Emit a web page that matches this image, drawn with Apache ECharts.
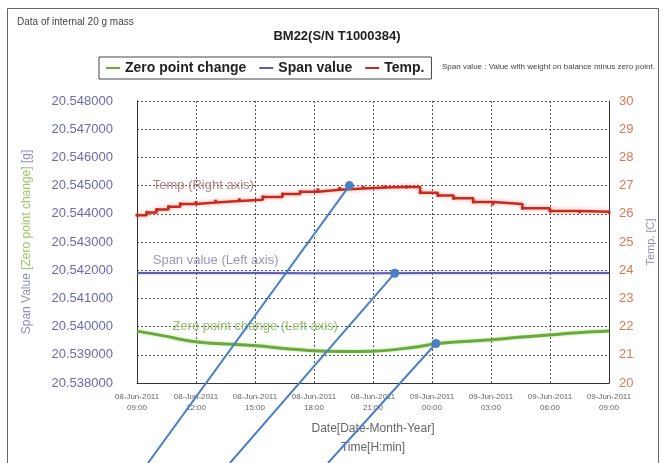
<!DOCTYPE html>
<html>
<head>
<meta charset="utf-8">
<script src="https://cdn.jsdelivr.net/npm/echarts@6/dist/echarts.min.js"></script>
<style>
  html, body { margin: 0; padding: 0; background: #fff; }
  #chart { width: 664px; height: 463px; }
</style>
</head>
<body>
<div id="chart"></div>
<script>
// hours after 08-Jun-2011 09:00
var tickLabels = [
  "08-Jun-2011\n09:00", "08-Jun-2011\n12:00", "08-Jun-2011\n15:00",
  "08-Jun-2011\n18:00", "08-Jun-2011\n21:00", "09-Jun-2011\n00:00",
  "09-Jun-2011\n03:00", "09-Jun-2011\n06:00", "09-Jun-2011\n09:00"
];

var tempHours = [0, 0.5, 1, 1.6, 2.2, 3, 4, 5.2, 6.4, 7.4, 8.3, 9.2, 10.3, 11.5, 12.6, 13.7, 14.4, 15.3, 16.1, 17.1, 18.1, 19.6, 21.0, 22.5, 24];
var tempValues = [25.95, 26.05, 26.15, 26.25, 26.35, 26.4, 26.45, 26.5, 26.6, 26.7, 26.78, 26.85, 26.9, 26.93, 26.95, 26.95, 26.75, 26.65, 26.55, 26.42, 26.35, 26.2, 26.1, 26.07, 26.05];

var spanHours = [0, 3, 6, 9, 12, 15, 18, 21, 24];
var spanValues = [20.54190, 20.54190, 20.54190, 20.54189, 20.54189, 20.54190, 20.54190, 20.54190, 20.54190];

var zeroHours = [0, 1.3, 3, 4.5, 6.1, 7.5, 9, 10.5, 12, 14, 15.3, 16.6, 18, 19.4, 20.9, 22.4, 24];
var zeroValues = [20.53984, 20.53968, 20.53946, 20.53938, 20.53932, 20.53922, 20.53914, 20.53912, 20.53913, 20.53926, 20.53940, 20.53947, 20.53953, 20.53962, 20.53970, 20.53978, 20.53984];

function pairs(xs, ys) {
  var out = [];
  for (var i = 0; i < xs.length; i++) out.push([xs[i], ys[i]]);
  return out;
}

var chart = echarts.init(document.getElementById("chart"));

var gridLine = { show: true, lineStyle: { color: "#555", type: [2, 2], width: 1 } };

var option = {
  backgroundColor: "#fff",
  animation: false,
  textStyle: { fontFamily: "Liberation Sans, Arial, sans-serif" },
  title: [
    {
      text: "BM22(S/N T1000384)",
      left: 332, top: 25, textAlign: "center",
      textStyle: { fontSize: 13, fontWeight: "bold", color: "#222" }
    },
    {
      text: "Data of internal 20 g mass",
      left: 12, top: 12,
      textStyle: { fontSize: 10, fontWeight: "normal", color: "#444" }
    },
    {
      text: "Span value : Value with weight on balance minus zero point.",
      left: 437, top: 58,
      textStyle: { fontSize: 8, fontWeight: "normal", color: "#444" }
    }
  ],
  legend: {
    left: 99, top: 57,
    itemWidth: 14, itemHeight: 2, itemGap: 13,
    icon: "rect",
    borderColor: "#444", borderWidth: 1, padding: [4, 7],
    textStyle: { fontSize: 14, fontWeight: "bold", color: "#222" },
    data: ["Zero point change", "Span value", "Temp."]
  },
  grid: { left: 137, right: 54, top: 101, bottom: 80 },
  xAxis: {
    type: "value",
    min: 0, max: 24, interval: 3,
    axisLine: { lineStyle: { color: "#333" } },
    axisTick: { show: false },
    splitLine: gridLine,
    axisLabel: {
      fontSize: 8, color: "#666", lineHeight: 11,
      formatter: function (v) { return tickLabels[Math.round(v / 3)]; }
    },
    name: "Date[Date-Month-Year]\nTime[H:min]",
    nameLocation: "middle", nameGap: 36,
    nameTextStyle: { fontSize: 12, color: "#666", lineHeight: 19 }
  },
  yAxis: [
    {
      type: "value",
      min: 20.538, max: 20.548, interval: 0.001,
      axisLine: { show: true, lineStyle: { color: "#333" } },
      axisTick: { show: false },
      splitLine: gridLine,
      axisLabel: {
        fontSize: 13, color: "#6a6aae", margin: 24,
        formatter: function (v) { return v.toFixed(6); }
      },
      name: "{a|Span Value }{b|[Zero point change]}{a| [g]}",
      nameLocation: "middle", nameGap: 104, nameRotate: 90,
      nameTextStyle: {
        rich: {
          a: { fontSize: 12, color: "#8f8fc0" },
          b: { fontSize: 12, color: "#9cc86a" }
        }
      }
    },
    {
      type: "value",
      min: 20, max: 30, interval: 1,
      axisLine: { show: true, lineStyle: { color: "#333" } },
      axisTick: { show: false },
      splitLine: { show: false },
      axisLabel: { fontSize: 13, color: "#e07850", margin: 10 },
      name: "Temp. [C]",
      nameLocation: "middle", nameGap: 36, nameRotate: 90,
      nameTextStyle: { fontSize: 11, color: "#9090b8" }
    }
  ],
  series: [
    {
      name: "Zero point change",
      type: "line",
      yAxisIndex: 0,
      smooth: 0.4,
      symbol: "none",
      color: "#6aaa3a",
      lineStyle: { width: 3, color: "#6aaa3a", shadowColor: "rgba(120,200,80,0.5)", shadowBlur: 3 },
      data: pairs(zeroHours, zeroValues)
    },
    {
      name: "Span value",
      type: "line",
      yAxisIndex: 0,
      symbol: "none",
      color: "#5c5cb0",
      lineStyle: { width: 2, color: "#5c5cb0", shadowColor: "rgba(90,90,180,0.4)", shadowBlur: 3 },
      data: pairs(spanHours, spanValues)
    },
    {
      name: "Temp.",
      type: "line",
      yAxisIndex: 1,
      step: "end",
      symbol: "rect",
      symbolSize: 3,
      showAllSymbol: true,
      color: "#c82a1e",
      itemStyle: { color: "#c82a1e" },
      lineStyle: { width: 2.5, color: "#c82a1e", shadowColor: "rgba(230,80,60,0.5)", shadowBlur: 4 },
      data: pairs(tempHours, tempValues)
    }
  ]
};

chart.setOption(option);

// overlay: in-plot captions, frame and callout pointers
var pTemp = chart.convertToPixel({ xAxisIndex: 0, yAxisIndex: 1 }, [10.8, 27]);
var pSpan = chart.convertToPixel({ xAxisIndex: 0, yAxisIndex: 0 }, [13.1, 20.54189]);
var pZero = chart.convertToPixel({ xAxisIndex: 0, yAxisIndex: 0 }, [15.2, 20.5394]);
var capTemp = chart.convertToPixel({ xAxisIndex: 0, yAxisIndex: 1 }, [0.8, 27]);
var capSpan = chart.convertToPixel({ xAxisIndex: 0, yAxisIndex: 0 }, [0.8, 20.54233]);
var capZero = chart.convertToPixel({ xAxisIndex: 0, yAxisIndex: 0 }, [1.8, 20.54002]);

var pointerColor = "#4a7ec6";
function pointer(p, endX) {
  return [
    { type: "line", z: 100, shape: { x1: p[0], y1: p[1], x2: endX, y2: 463 },
      style: { stroke: pointerColor, lineWidth: 2 } },
    { type: "circle", z: 101, shape: { cx: p[0], cy: p[1], r: 4.5 },
      style: { fill: pointerColor } }
  ];
}

var capFont = "13px Liberation Sans";
var graphics = [
  { type: "rect", z: 0, silent: true, shape: { x: 7.5, y: 8.5, width: 651, height: 470 },
    style: { fill: null, stroke: "#666", lineWidth: 1 } },
  { type: "text", z: 50, x: capTemp[0], y: capTemp[1], style: { text: "Temp (Right axis)", fill: "#b08080", font: capFont, textVerticalAlign: "middle" } },
  { type: "text", z: 50, x: capSpan[0], y: capSpan[1], style: { text: "Span value (Left axis)", fill: "#9898b4", font: capFont, textVerticalAlign: "middle" } },
  { type: "text", z: 50, x: capZero[0], y: capZero[1], style: { text: "Zero point change (Left axis)", fill: "#94c068", font: capFont, textVerticalAlign: "middle" } }
];
graphics = graphics.concat(pointer(pTemp, 148), pointer(pSpan, 230), pointer(pZero, 328));

chart.setOption({ graphic: graphics });
</script>
</body>
</html>
